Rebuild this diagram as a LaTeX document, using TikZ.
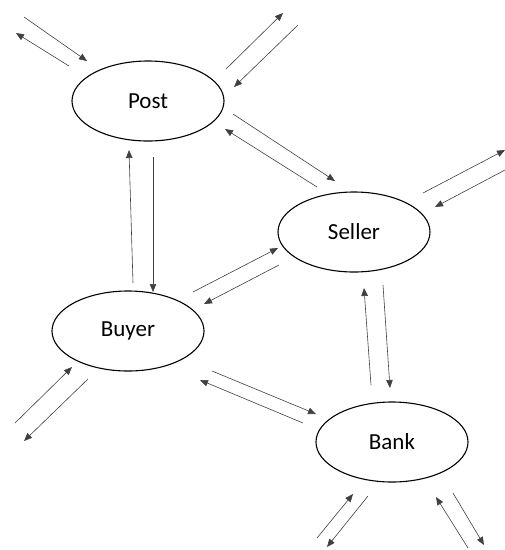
\documentclass[tikz,border=0pt]{standalone}
\usepackage{fontspec}
\setmainfont{Carlito}
\usepackage{tikz}
\usetikzlibrary{shapes.geometric, arrows.meta}
\tikzstyle{party} = [draw, ellipse, line width=1.1pt, minimum width=152pt, minimum height=80pt, inner sep=0pt, font=\fontsize{23}{27}\selectfont]
\tikzstyle{flow} = [draw=black!75, line width=0.6pt, -{Triangle[length=8pt,width=6.5pt]}]

\begin{document}
\begin{tikzpicture}[x=1pt, y=-1pt]
        \useasboundingbox (0,0) rectangle (505,550);
        \node[party] (post) at (148,101) {Post};
        \node[party] (seller) at (354,232) {Seller};
        \node[party] (buyer) at (128,331) {Buyer};
        \node[party] (bank) at (392,442) {Bank};

        % Flows - pairs, one each way
        \foreach \f/\xa/\ya/\xb/\yb in {
            postinA/24/17/87/61, postoutA/69/66/16/33,
            postoutB/226/69/283/13, postinB/298/25/234/87,
            postseller/233/114/335/181, sellerpost/317/187/225/129,
            buyerpost/133/283/129/150, postbuyer/153/157/153/292,
            selleroutA/423/193/505/150, sellerinA/505/170/435/207,
            buyerseller/193/292/278/248, sellerbuyer/279/265/204/304,
            buyerinA/15/423/72/367, buyeroutA/88/379/24/441,
            buyerbank/212/371/316/414, bankbuyer/303/423/200/380,
            bankseller/371/385/364/288, sellerbank/383/285/390/388,
            bankinA/317/538/353/494, bankoutA/368/496/327/547,
            bankinB/468/548/436/497, bankoutB/453/493/484/545}
        {
            \coordinate (\f-s) at (\xa,\ya);
            \coordinate (\f-e) at (\xb,\yb);
            \draw[flow] (\f-s) -- (\f-e);
        }
      \end{tikzpicture}
\end{document}
